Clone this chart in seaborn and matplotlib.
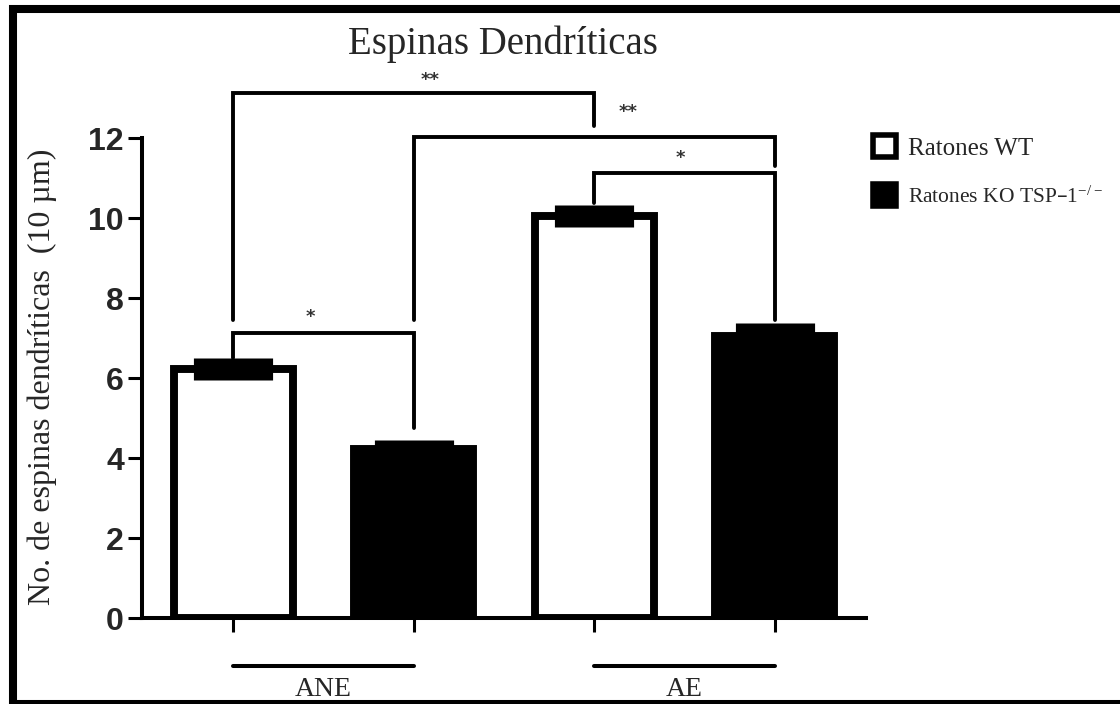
import numpy as np
import pandas as pd
import matplotlib
matplotlib.use("Agg")
import matplotlib.pyplot as plt
import matplotlib.transforms as mtransforms
from matplotlib.patches import Patch, Rectangle
import seaborn as sns

# ---------------- data ----------------
conditions = ["ANE", "AE"]
genotypes = ["Ratones WT", "Ratones KO TSP–1$^{\\mathregular{-/-}}$"]
wt_mean = [6.22, 10.05]
ko_mean = [4.22, 7.05]
wt_sem = [0.27, 0.28]
ko_sem = [0.23, 0.32]
y_ticks = [0, 2, 4, 6, 8, 10, 12]
title_text = "Espinas Dendríticas"
ylabel_text = "No. de espinas dendríticas  (10 µm)"

# significance brackets (bar indices ordered left to right)
sig_pairs = [(0, 2), (1, 3), (2, 3), (0, 1)]
sig_heights = [13.12, 12.03, 11.12, 7.12]
sig_left_ends = [7.45, 7.45, 10.38, 6.5]
sig_right_ends = [12.3, 11.3, 7.45, 4.75]
sig_labels = ["**", "**", "*", "*"]
sig_label_dx = [0.044, 0.094, -0.01, -0.036]
sig_label_y = [13.45, 12.65, 11.5, 7.52]

df = pd.DataFrame({
    "condition": conditions * 2,
    "genotype": [genotypes[0]] * 2 + [genotypes[1]] * 2,
    "mean": wt_mean + ko_mean,
})
order_means = [wt_mean[0], ko_mean[0], wt_mean[1], ko_mean[1]]
order_sems = [wt_sem[0], ko_sem[0], wt_sem[1], ko_sem[1]]

# ---------------- style ----------------
sns.set_style("white")
plt.rcParams["font.family"] = ["Liberation Serif", "DejaVu Serif"]
plt.rcParams["mathtext.default"] = "regular"

W, H = 1120, 704
fig = plt.figure(figsize=(W / 100, H / 100), dpi=100)
ax = fig.add_axes([142 / W, (H - 618) / H, (866 - 142) / W, 560 / H])

sns.barplot(data=df, x="condition", y="mean", hue="genotype",
            order=conditions, hue_order=genotypes,
            palette=["white", "black"], edgecolor="black", linewidth=5.7,
            width=1.0, gap=0.34, errorbar=None, legend=False, ax=ax, zorder=2)

bars = sorted(ax.patches, key=lambda p: p.get_x())
centers = [p.get_x() + p.get_width() / 2 for p in bars]

ax.errorbar(centers, order_means, yerr=order_sems, fmt="none", ecolor="black",
            elinewidth=57, capsize=0, zorder=3)

# brackets
for (a, b), h, la, ra, lab, dx, ly in zip(sig_pairs, sig_heights, sig_left_ends,
                                          sig_right_ends, sig_labels, sig_label_dx, sig_label_y):
    xa, xb = centers[a], centers[b]
    ax.plot([xa, xa, xb, xb], [la, h, h, ra], color="black", lw=2.8,
            solid_joinstyle="miter", clip_on=False, zorder=4)
    ax.text((xa + xb) / 2 + dx, ly, lab, ha="center", va="center",
            fontsize=13, fontweight="bold", color="#333333",
            family="DejaVu Sans", clip_on=False)

ax.set_xlim(-0.503, 1.503)
ax.set_ylim(0, 14)
ax.set_xticks(centers)
ax.set_xticklabels([])
ax.set_yticks(y_ticks)
ax.set_yticklabels([str(t) for t in y_ticks], fontsize=23, fontweight="bold",
                   family="Liberation Sans")
ax.set_xlabel("")
ax.set_ylabel(ylabel_text, fontsize=23, family="Liberation Serif")
ax.yaxis.set_label_coords(-0.138, 0.43)
ax.yaxis.label.set_va("center")

sns.despine(ax=ax)
ax.spines["left"].set_bounds(0, 12)
for s in ("left", "bottom"):
    ax.spines[s].set_linewidth(2.9)
    ax.spines[s].set_color("black")
ax.tick_params(axis="both", direction="out", length=10, width=2.2, color="black",
               pad=3, left=True, bottom=True)
ax.tick_params(axis="x", pad=2)

# group lines and labels below
trans = mtransforms.blended_transform_factory(ax.transData, ax.transAxes)
for i, cond in enumerate(conditions):
    x0, x1 = centers[2 * i], centers[2 * i + 1]
    ax.plot([x0, x1], [-0.0857, -0.0857], transform=trans, color="black",
            lw=2.9, clip_on=False)
    ax.text(i, -0.128, cond, transform=trans, ha="center", va="center",
            fontsize=20, family="Liberation Serif")

fig.text(503 / W, 1 - 54 / H, title_text, ha="center", va="baseline",
         fontsize=28, family="Liberation Serif")

handles = [Patch(facecolor="white", edgecolor="black", lw=4),
           Patch(facecolor="black", edgecolor="black", lw=4)]
leg = fig.legend(handles, genotypes, loc="upper left",
                 bbox_to_anchor=(873 / W, 1 - 135 / H), frameon=False,
                 prop={"family": "Liberation Serif", "size": 18},
                 handlelength=0.9, handleheight=1.0, handletextpad=0.5,
                 labelspacing=0.95, borderpad=0, borderaxespad=0)
leg.get_texts()[1].set_fontsize(15.5)

# outer frame
frame = Rectangle((13 / W, 0), 1.05, 1 - 9 / H, transform=fig.transFigure,
                  fill=False, edgecolor="black", lw=5.8, clip_on=False)
fig.patches.append(frame)

fig.savefig("out.png", dpi=100, facecolor="white")
